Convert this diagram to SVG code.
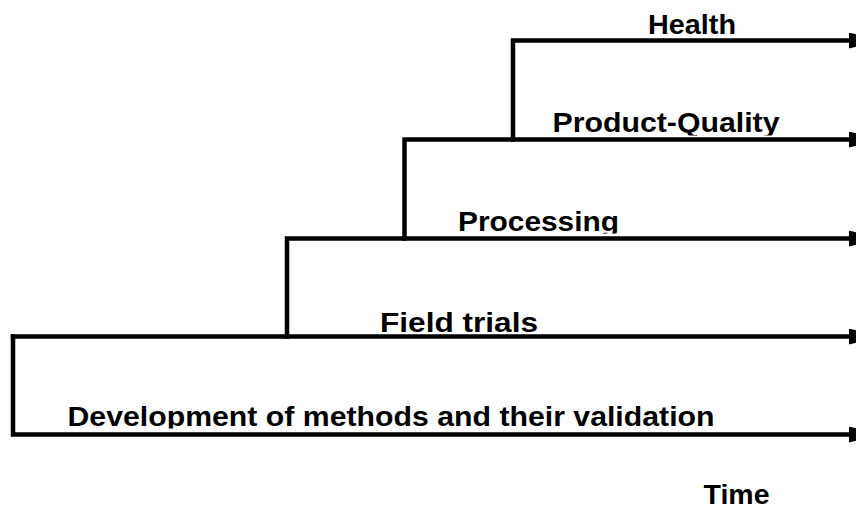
<svg xmlns="http://www.w3.org/2000/svg" width="856" height="509" viewBox="0 0 856 509">
  <style>
    .lbl { font-family: "Liberation Sans", Arial, sans-serif; font-weight: bold; font-size: 28px; fill: #000; }
    .ln { fill: none; stroke: #000; stroke-width: 4.5; stroke-linejoin: miter; stroke-linecap: square; }
  </style>
  <defs>
    <marker id="arrow" markerUnits="userSpaceOnUse" viewBox="0 0 30 16" refX="0" refY="8" markerWidth="30" markerHeight="16" orient="auto">
      <path d="M0,0 L30,8 L0,16 z" fill="#000"/>
    </marker>
    <clipPath id="cPQ"><rect x="0" y="0" width="856" height="135.5"/></clipPath>
    <clipPath id="cPr"><rect x="0" y="0" width="856" height="233.5"/></clipPath>
    <clipPath id="cDev"><rect x="0" y="0" width="856" height="428.5"/></clipPath>
  </defs>
  <rect width="856" height="509" fill="#fff"/>

  <g id="connectors">
    <path class="ln" d="M13,336.5 V434.5 H849" marker-end="url(#arrow)"/>
    <path class="ln" d="M13,336.5 H849" marker-end="url(#arrow)"/>
    <path class="ln" d="M287,336.5 V238.5 H849" marker-end="url(#arrow)"/>
    <path class="ln" d="M404.5,238.5 V139.5 H849" marker-end="url(#arrow)"/>
    <path class="ln" d="M513,139.5 V40.5 H849" marker-end="url(#arrow)"/>
  </g>

  <g id="development">
    <text class="lbl" x="67.5" y="425.5" textLength="647" lengthAdjust="spacingAndGlyphs" clip-path="url(#cDev)">Development of methods and their validation</text>
  </g>
  <g id="field-trials">
    <text class="lbl" x="380" y="331.5" textLength="158" lengthAdjust="spacingAndGlyphs">Field trials</text>
  </g>
  <g id="processing">
    <text class="lbl" x="458" y="230.5" textLength="161" lengthAdjust="spacingAndGlyphs" clip-path="url(#cPr)">Processing</text>
  </g>
  <g id="product-quality">
    <text class="lbl" x="552.5" y="132" textLength="227" lengthAdjust="spacingAndGlyphs" clip-path="url(#cPQ)">Product-Quality</text>
  </g>
  <g id="health">
    <text class="lbl" x="648" y="34" textLength="88" lengthAdjust="spacingAndGlyphs">Health</text>
  </g>
  <g id="time">
    <text class="lbl" x="703.5" y="504" textLength="66" lengthAdjust="spacingAndGlyphs">Time</text>
  </g>
</svg>
